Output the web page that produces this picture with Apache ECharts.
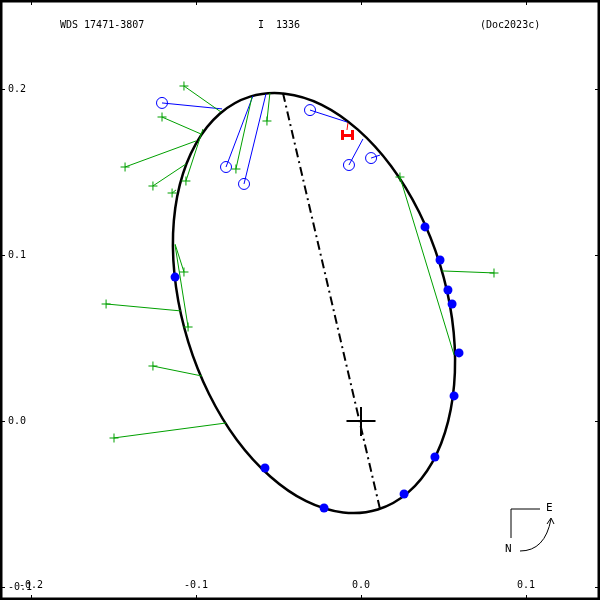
<!DOCTYPE html>
<html><head><meta charset="utf-8">
<script src="https://cdn.jsdelivr.net/npm/echarts@6/dist/echarts.min.js"></script>
<style>html,body{margin:0;padding:0;background:#fff}#c{width:600px;height:600px}</style>
</head><body><div id="c"></div>
<script>
// ---- data (arcsec offsets) ----
var titleLeft = "WDS 17471-3807";
var titleMid = "I  1336";
var titleRight = "(Doc2023c)";
var xTicks = [-0.2, -0.1, 0.0, 0.1];
var yTicks = [-0.1, 0.0, 0.1, 0.2];

// orbit points (closed loop)
var orbitX = [0.0102,0.0286,0.0432,0.0528,0.0569,0.0552,0.0478,0.0352,0.0182,-0.0019,-0.0238,-0.0461,-0.0672,-0.0856,-0.1001,-0.1098,-0.1139,-0.1121,-0.1047,-0.0921,-0.0752,-0.0550,-0.0332,-0.0108];
var orbitY = [-0.0533,-0.0430,-0.0249,-0.0002,0.0292,0.0616,0.0945,0.1259,0.1536,0.1755,0.1905,0.1972,0.1954,0.1851,0.1670,0.1424,0.1130,0.0806,0.0477,0.0163,-0.0114,-0.0334,-0.0483,-0.0551];

// line of nodes
var nodeX = [-0.0473, 0.0115];
var nodeY = [0.1976, -0.0530];

// filled blue points
var dotX = [0.0388,0.0479,0.0527,0.0552,0.0594,0.0564,0.0448,0.0261,-0.0224,-0.0582,-0.1127];
var dotY = [0.1169,0.0970,0.0789,0.0705,0.0410,0.0151,-0.0217,-0.0440,-0.0524,-0.0283,0.0867];

// open blue points and their orbit positions
var openX = [-0.1206,-0.0818,-0.0709,-0.0309,-0.0073,0.0061];
var openY = [0.1916,0.1530,0.1428,0.1873,0.1542,0.1584];
var openEndX = [-0.0842,-0.0655,-0.0576,-0.0085,0.0012,0.0115];
var openEndY = [0.1880,0.1958,0.1970,0.1801,0.1699,0.1602];

// green plus points and their orbit positions
var plusX = [-0.1073,-0.1206,-0.1430,-0.1261,-0.1145,-0.1061,-0.1073,-0.1545,-0.1048,-0.1261,-0.1497,-0.0758,-0.0570,0.0236,0.0806];
var plusY = [0.2018,0.1831,0.1530,0.1416,0.1373,0.1446,0.0898,0.0705,0.0566,0.0331,-0.0102,0.1518,0.1807,0.1470,0.0892];
var plusEndX = [-0.0848,-0.0970,-0.1000,-0.1061,-0.1121,-0.0958,-0.1127,-0.1091,-0.1127,-0.0964,-0.0818,-0.0661,-0.0552,0.0564,0.0491];
var plusEndY = [0.1861,0.1729,0.1687,0.1548,0.1392,0.1759,0.1066,0.0663,0.1060,0.0271,-0.0012,0.1952,0.1976,0.0398,0.0904];

// red special measure (H marker) and its orbit position
var redX = [-0.0085];
var redY = [0.1723];
var redEndX = [-0.0079];
var redEndY = [0.1795];

// ---- build ----
function zip(a,b){var r=[];for(var i=0;i<a.length;i++)r.push([a[i],b[i]]);return r;}
function segs(x1,y1,x2,y2){var r=[];for(var i=0;i<x1.length;i++)r.push({coords:[[x1[i],y1[i]],[x2[i],y2[i]]]});return r;}

var FONT = '"DejaVu Sans Mono", monospace';
var green = '#00a000', blue = '#0000ff', red = '#ff0000';
var plusPath = 'path://M4,0H5V4H9V5H5V9H4V5H0V4H4Z';

var hw = 0.0029, hh = 0.0030; // H marker half width/height (data)
var hSegs = [];
for (var i=0;i<redX.length;i++){
  hSegs.push({coords:[[redX[i]-hw,redY[i]-hh],[redX[i]-hw,redY[i]+hh]]});
  hSegs.push({coords:[[redX[i]+hw,redY[i]-hh],[redX[i]+hw,redY[i]+hh]]});
  hSegs.push({coords:[[redX[i]-hw,redY[i]],[redX[i]+hw,redY[i]]]});
}

// closed Catmull-Rom path through orbit points, mapped by the chart's own axes
function orbitRender(params, api){
  var n = orbitX.length, p = [];
  for (var i=0;i<n;i++) p.push(api.coord([orbitX[i], orbitY[i]]));
  var d = 'M' + p[0][0] + ',' + p[0][1];
  for (var i=0;i<n;i++){
    var p0 = p[(i-1+n)%n], p1 = p[i], p2 = p[(i+1)%n], p3 = p[(i+2)%n];
    var c1x = p1[0] + (p2[0]-p0[0])/6, c1y = p1[1] + (p2[1]-p0[1])/6;
    var c2x = p2[0] - (p3[0]-p1[0])/6, c2y = p2[1] - (p3[1]-p1[1])/6;
    d += 'C' + c1x + ',' + c1y + ',' + c2x + ',' + c2y + ',' + p2[0] + ',' + p2[1];
  }
  d += 'Z';
  return {type:'path', shape:{pathData:d}, style:{stroke:'#000', lineWidth:2.5, fill:'none'}};
}

var chart = echarts.init(document.getElementById('c'), null, {renderer:'canvas'});
var xMin = -0.21879, xMax = 0.14485, yMin = -0.10783, yMax = 0.25361;
function fmt(v){ return (Math.abs(v)<1e-9?0:v).toFixed(1); }

chart.setOption({
  animation:false,
  backgroundColor:'#fff',
  grid:{left:0,right:0,top:0,bottom:0,show:true,borderColor:'#000',borderWidth:5,backgroundColor:'transparent'},
  xAxis:[
    {type:'value', min:xMin, max:xMax, position:'bottom', splitLine:{show:false}, axisLine:{show:false, onZero:false},
     axisTick:{show:true, inside:true, length:5, customValues:xTicks, lineStyle:{color:'#000'}},
     axisLabel:{inside:true, customValues:xTicks, margin:10, formatter:fmt, fontFamily:FONT, fontSize:10, color:'#000'}},
    {type:'value', min:xMin, max:xMax, position:'top', splitLine:{show:false}, axisLine:{show:false, onZero:false},
     axisTick:{show:true, inside:true, length:5, customValues:xTicks, lineStyle:{color:'#000'}},
     axisLabel:{show:false}}
  ],
  yAxis:[
    {type:'value', min:yMin, max:yMax, position:'left', splitLine:{show:false}, axisLine:{show:false, onZero:false},
     axisTick:{show:true, inside:true, length:5, customValues:yTicks, lineStyle:{color:'#000'}},
     axisLabel:{inside:true, customValues:yTicks, margin:8, formatter:fmt, fontFamily:FONT, fontSize:10, color:'#000'}},
    {type:'value', min:yMin, max:yMax, position:'right', splitLine:{show:false}, axisLine:{show:false, onZero:false},
     axisTick:{show:true, inside:true, length:5, customValues:yTicks, lineStyle:{color:'#000'}},
     axisLabel:{show:false}}
  ],
  graphic:[
    {type:'text', left:60, top:20, style:{text:titleLeft, font:'10px '+FONT, fill:'#000'}},
    {type:'text', left:258, top:20, style:{text:titleMid, font:'10px '+FONT, fill:'#000'}},
    {type:'text', left:480, top:20, style:{text:titleRight, font:'10px '+FONT, fill:'#000'}},
    {type:'polyline', shape:{points:[[540,509],[511,509],[511,538]]}, style:{stroke:'#000', lineWidth:1, fill:null}},
    {type:'text', x:546, y:503, style:{text:'E', font:'11px '+FONT, fill:'#000'}},
    {type:'text', x:505, y:544, style:{text:'N', font:'11px '+FONT, fill:'#000'}},
    {type:'bezierCurve', shape:{x1:520,y1:551,x2:551,y2:519,cpx1:545,cpy1:551}, style:{stroke:'#000', lineWidth:1, fill:null}},
    {type:'polyline', shape:{points:[[547,524],[551,518],[554,524]]}, style:{stroke:'#000', lineWidth:1, fill:null}}
  ],
  series:[
    {type:'custom', name:'orbit', coordinateSystem:'cartesian2d', data:[[orbitX[0],orbitY[0]]],
     renderItem:orbitRender, z:3, clip:false},
    {type:'line', name:'nodes', data:zip(nodeX,nodeY), symbol:'none',
     lineStyle:{color:'#000', width:2, type:[9,4,2,4]}, z:2},
    {type:'lines', coordinateSystem:'cartesian2d', data:[{coords:[[-0.0088,0],[0.0088,0]]},{coords:[[0,-0.0090],[0,0.0085]]}],
     lineStyle:{color:'#000', width:2, opacity:1}, z:4},
    {type:'lines', coordinateSystem:'cartesian2d', data:segs(openX,openY,openEndX,openEndY),
     lineStyle:{color:blue, width:1, opacity:1}, z:4},
    {type:'lines', coordinateSystem:'cartesian2d', data:segs(plusX,plusY,plusEndX,plusEndY),
     lineStyle:{color:green, width:1, opacity:1}, z:4},
    {type:'lines', coordinateSystem:'cartesian2d', data:segs(redX,redY.map(function(v){return v+hh;}),redEndX,redEndY),
     lineStyle:{color:red, width:1, opacity:1}, z:4},
    {type:'lines', coordinateSystem:'cartesian2d', data:hSegs,
     lineStyle:{color:red, width:3, opacity:1}, z:5},
    {type:'scatter', data:zip(dotX,dotY), symbol:'circle', symbolSize:9,
     itemStyle:{color:blue, opacity:1}, z:6},
    {type:'scatter', data:zip(openX,openY), symbol:'circle', symbolSize:11,
     itemStyle:{color:'rgba(0,0,0,0)', borderColor:blue, borderWidth:1, opacity:1}, z:6},
    {type:'scatter', data:zip(plusX,plusY), symbol:plusPath, symbolSize:9,
     itemStyle:{color:green, opacity:1}, z:6}
  ]
});
</script></body></html>
